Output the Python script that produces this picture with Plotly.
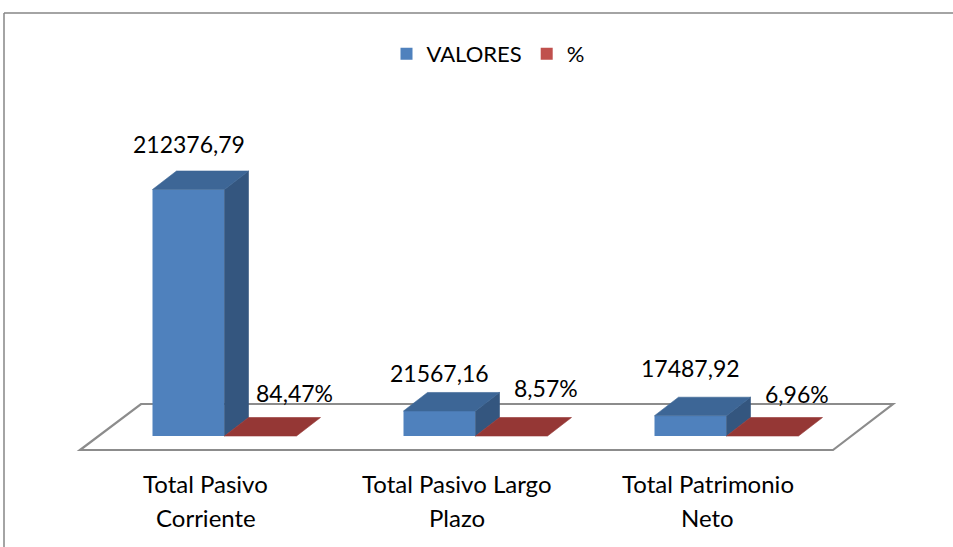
import plotly.graph_objects as go

# ---- data ----
categories = ["Total Pasivo Corriente", "Total Pasivo Largo Plazo", "Total Patrimonio Neto"]
category_lines = [["Total Pasivo", "Corriente"], ["Total Pasivo Largo", "Plazo"], ["Total Patrimonio", "Neto"]]
valores = [212376.79, 21567.16, 17487.92]
valores_labels = ["212376,79", "21567,16", "17487,92"]
porcentajes = [84.47, 8.57, 6.96]
porcentaje_labels = ["84,47%", "8,57%", "6,96%"]

# ---- layout geometry (pixels) ----
W, H = 953, 547
CAT_PX = 251.0           # pixels per category
X0_PX = 224.5            # pixel of category 0 group centre
Y0_PX = 436.0            # pixel of value 0
PX_PER_UNIT = 246.5 / 212376.79
BAR_W = 72 / CAT_PX      # bar width in category units
DX = 24 / CAT_PX         # 3D depth offset (x)
DY = 18.5 / PX_PER_UNIT  # 3D depth offset (y)
VAL_LABEL_SHIFT = [46, 38, 48]
PCT_LABEL_SHIFT = [43, 48, 42]

def xu(px):
    return (px - X0_PX) / CAT_PX

def yu(py):
    return (Y0_PX - py) / PX_PER_UNIT

BLUE = "#4F81BD"
BLUE_TOP = "#3D6696"
BLUE_SIDE = "#34567F"
RED = "#C0504D"
RED_TOP = "#953735"
FONT = "Lato"

fig = go.Figure()

xs = list(range(len(categories)))
blue_x = [i - BAR_W / 2 for i in xs]
red_x = [i + BAR_W / 2 for i in xs]

fig.add_trace(go.Bar(x=blue_x, y=valores, width=[BAR_W] * 3, name="VALORES",
                     marker=dict(color=BLUE, line=dict(width=0)), hoverinfo="skip"))
fig.add_trace(go.Bar(x=red_x, y=[p / 100 for p in porcentajes], width=[BAR_W] * 3, name="%",
                     marker=dict(color=RED, line=dict(width=0)), hoverinfo="skip"))

def poly(xp, yp, color):
    fig.add_trace(go.Scatter(x=xp + [xp[0]], y=yp + [yp[0]], fill="toself", fillcolor=color,
                             mode="lines", line=dict(width=0.6, color=color),
                             showlegend=False, hoverinfo="skip"))

for i in xs:
    v = valores[i]
    xl = blue_x[i] - BAR_W / 2
    xr = blue_x[i] + BAR_W / 2
    # side face
    poly([xr, xr, xr + DX, xr + DX], [0, v, v + DY, DY], BLUE_SIDE)
    # top face
    poly([xl, xr, xr + DX, xl + DX], [v, v, v + DY, v + DY], BLUE_TOP)
    # red (percentage) top face, practically flat
    p = porcentajes[i] / 100
    rl = red_x[i] - BAR_W / 2
    rr = red_x[i] + BAR_W / 2
    poly([rl, rr, rr + DX, rl + DX], [p, p, p + DY, p + DY], RED_TOP)

# floor (below traces)
fl = [(xu(80), yu(450)), (xu(833), yu(450)), (xu(893), yu(404)), (xu(141), yu(404))]
path = "M " + " L ".join(f"{a},{b}" for a, b in fl) + " Z"
shapes = [dict(type="path", path=path, xref="x", yref="y", layer="below",
               fillcolor="white", line=dict(color="#8C8C8C", width=2.2))]
# chart frame
shapes.append(dict(type="line", xref="paper", yref="paper", x0=4 / W, x1=1.0,
                   y0=1 - 13 / H, y1=1 - 13 / H, line=dict(color="#868686", width=1.5)))
shapes.append(dict(type="line", xref="paper", yref="paper", x0=4 / W, x1=4 / W,
                   y0=0, y1=1 - 13 / H, line=dict(color="#868686", width=1.5)))

annotations = []
for i in xs:
    annotations.append(dict(x=blue_x[i], y=valores[i], xref="x", yref="y", text=valores_labels[i],
                            showarrow=False, yshift=VAL_LABEL_SHIFT[i], yanchor="middle",
                            font=dict(family=FONT, size=23, color="black")))
    annotations.append(dict(x=red_x[i], y=porcentajes[i] / 100, xref="x", yref="y",
                            text=porcentaje_labels[i], showarrow=False, xshift=34,
                            yshift=PCT_LABEL_SHIFT[i], yanchor="middle",
                            font=dict(family=FONT, size=23, color="black")))
    for j, line in enumerate(category_lines[i]):
        annotations.append(dict(x=i, y=yu(483 + 34 * j), xref="x", yref="y", text=line,
                                showarrow=False, xshift=-19, yanchor="middle",
                                font=dict(family=FONT, size=24, color="black")))

fig.update_layout(
    width=W, height=H,
    margin=dict(l=0, r=0, t=0, b=0),
    paper_bgcolor="white", plot_bgcolor="white",
    barmode="overlay",
    showlegend=True,
    legend=dict(orientation="h", x=488 / W, xanchor="center", y=1 - 54 / H, yanchor="middle",
                font=dict(family=FONT, size=22, color="black"), itemwidth=30,
                bgcolor="rgba(0,0,0,0)"),
    xaxis=dict(range=[xu(0), xu(W)], visible=False, fixedrange=True),
    yaxis=dict(range=[yu(H), yu(0)], visible=False, fixedrange=True),
    shapes=shapes,
    annotations=annotations,
    hovermode=False,
)

fig.write_html("out.html", config={"displayModeBar": False, "staticPlot": False},
               post_script="document.body.style.margin='0';document.body.style.overflow='hidden';")
